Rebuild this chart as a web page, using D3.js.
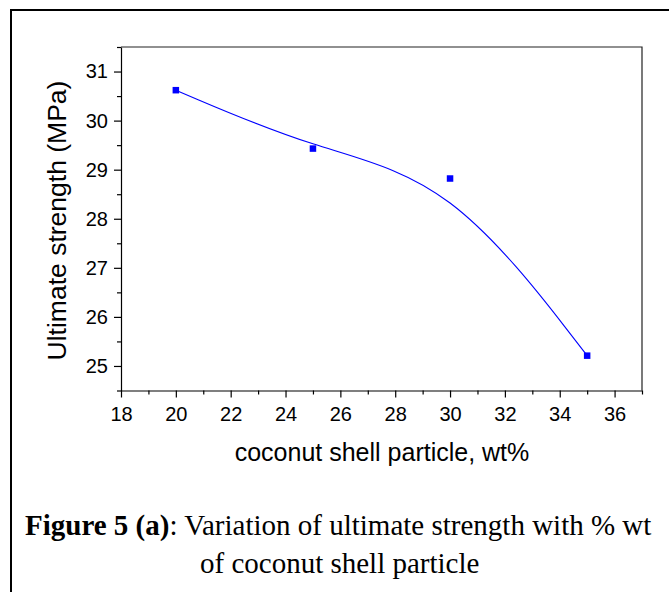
<!DOCTYPE html>
<html>
<head>
<meta charset="utf-8">
<script src="https://cdn.jsdelivr.net/npm/d3@7"></script>
<style>
  body { margin: 0; background: #fff; }
  svg { display: block; }
</style>
</head>
<body>
<svg id="chart"></svg>
<script>
// data
var wtPercent = [20, 25, 30, 35];
var strength = [30.62, 29.43, 28.82, 25.21];
var xTicks = [18, 20, 22, 24, 26, 28, 30, 32, 34, 36];
var xMinor = [19, 21, 23, 25, 27, 29, 31, 33, 35, 37];
var yTicks = [25, 26, 27, 28, 29, 30, 31];
var yMinor = [24.5, 25.5, 26.5, 27.5, 28.5, 29.5, 30.5, 31.5];

var screen = {width: 669, height: 592}
var plot = {left: 121, right: 642, top: 47, bottom: 390.5}
var sans = "'Liberation Sans', Arial, Helvetica, sans-serif"
var serif = "'Liberation Serif', 'Times New Roman', Times, serif"

var svg = d3.select("#chart")
    .attr("width", screen.width)
    .attr("height", screen.height)

// outer frame (top + left only)
svg.append("path")
    .attr("d", "M11," + screen.height + "V10H" + screen.width)
    .attr("fill", "none")
    .attr("stroke", "#000")
    .attr("stroke-width", 2)

var xscale = d3.scaleLinear().domain([18, 37]).range([plot.left, plot.right])
var yscale = d3.scaleLinear().domain([24.5, 31.5]).range([plot.bottom, plot.top])

// top and right border
svg.append("path")
    .attr("d", "M" + plot.left + "," + plot.top + "H" + plot.right + "V" + plot.bottom)
    .attr("fill", "none")
    .attr("stroke", "#222")
    .attr("stroke-width", 1.2)

var styleAxis = function(g, size) {
    g.selectAll("path").attr("stroke", "#000").attr("stroke-width", 1.2)
    g.selectAll("line").attr("stroke", "#000").attr("stroke-width", 1.2)
    g.selectAll("text")
        .attr("font-family", sans)
        .attr("font-size", size)
        .attr("fill", "#000")
}

// x axis
var xAxis = svg.append("g")
    .attr("transform", "translate(0," + plot.bottom + ")")
    .call(d3.axisBottom(xscale).tickValues(xTicks).tickSize(7).tickFormat(d3.format("d")).tickSizeOuter(0))
styleAxis(xAxis, 20)
xAxis.selectAll("text").attr("y", 30.5).attr("dy", 0)

var xAxisMinor = svg.append("g")
    .attr("transform", "translate(0," + plot.bottom + ")")
    .call(d3.axisBottom(xscale).tickValues(xMinor).tickSize(4).tickFormat("").tickSizeOuter(0))
xAxisMinor.select(".domain").remove()
styleAxis(xAxisMinor, 20)

// y axis
var yAxis = svg.append("g")
    .attr("transform", "translate(" + plot.left + ",0)")
    .call(d3.axisLeft(yscale).tickValues(yTicks).tickSize(7).tickPadding(6).tickFormat(d3.format("d")).tickSizeOuter(0))
styleAxis(yAxis, 20)

var yAxisMinor = svg.append("g")
    .attr("transform", "translate(" + plot.left + ",0)")
    .call(d3.axisLeft(yscale).tickValues(yMinor).tickSize(4).tickFormat("").tickSizeOuter(0))
yAxisMinor.select(".domain").remove()
styleAxis(yAxisMinor, 20)

// axis titles
svg.append("text")
    .attr("x", 382)
    .attr("y", 461)
    .attr("text-anchor", "middle")
    .attr("font-family", sans)
    .attr("font-size", 25)
    .text("coconut shell particle, wt%")

svg.append("text")
    .attr("transform", "translate(66," + 220.5 + ") rotate(-90)")
    .attr("text-anchor", "middle")
    .attr("font-family", sans)
    .attr("font-size", 26.5)
    .text("Ultimate strength (MPa)")

// smooth fitted curve
var points = wtPercent.map(function(w, i) { return [w, strength[i]] })
var line = d3.line()
    .x(function(d) { return xscale(d[0]) })
    .y(function(d) { return yscale(d[1]) })
    .curve(d3.curveBasis)

svg.append("path")
    .datum(points)
    .attr("d", line)
    .attr("fill", "none")
    .attr("stroke", "#0000ff")
    .attr("stroke-width", 1.1)

svg.selectAll("rect.pt")
    .data(points)
    .enter()
    .append("rect")
    .attr("class", "pt")
    .attr("x", function(d) { return xscale(d[0]) - 3.25 })
    .attr("y", function(d) { return yscale(d[1]) - 3.25 })
    .attr("width", 6.5)
    .attr("height", 6.5)
    .attr("fill", "#0000ff")

// caption
var cap1 = svg.append("text")
    .attr("x", 25)
    .attr("y", 535)
    .attr("font-family", serif)
    .attr("font-size", 29)
cap1.append("tspan").attr("font-weight", "bold").text("Figure 5 (a)")
cap1.append("tspan").text(": Variation of ultimate strength with % wt")

svg.append("text")
    .attr("x", 200)
    .attr("y", 573)
    .attr("font-family", serif)
    .attr("font-size", 29)
    .text("of coconut shell particle")
</script>
</body>
</html>
